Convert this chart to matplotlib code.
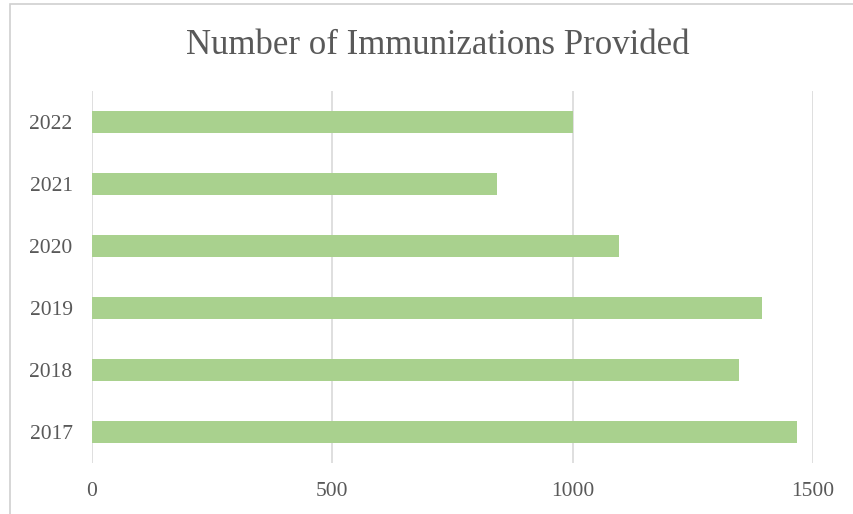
import matplotlib.pyplot as plt
from matplotlib.patches import Rectangle

# values
years = ['2017', '2018', '2019', '2020', '2021', '2022']
immunizations = [1467, 1346, 1393, 1096, 842, 1000]
x_ticks = [0, 500, 1000, 1500]

plt.rcParams['font.family'] = ['Liberation Serif', 'DejaVu Serif']
text_col = '#595959'

fig = plt.figure(figsize=(8.54, 5.14), dpi=100)
W, H = 854, 514
ax = fig.add_axes([92 / W, 1 - 463 / H, (813 - 92) / W, 372 / H])

ax.barh(range(len(years)), immunizations, height=0.34, color='#A9D18E', zorder=3)
ax.set_xlim(0, 1500)
ax.set_ylim(-0.5, len(years) - 0.5)
ax.set_yticks(range(len(years)), labels=years)
ax.set_xticks(x_ticks, labels=[str(t) for t in x_ticks])
ax.tick_params(axis='both', length=0, labelsize=15.5, labelcolor=text_col)
ax.tick_params(axis='y', pad=14)
ax.tick_params(axis='x', pad=14)
ax.grid(axis='x', color='#D9D9D9', linewidth=1.2, zorder=0)
for s in ax.spines.values():
    s.set_visible(False)

fig.text(438 / W, 1 - 45 / H, 'Number of Immunizations Provided', ha='center', va='center',
         fontsize=25, color=text_col)

# light outer border of the chart area
fig.patches.append(Rectangle((10 / W, -0.1), 1.2, 1 - 4 / H + 0.1, transform=fig.transFigure,
                             fill=False, edgecolor='#D0D0D0', linewidth=1.2))

fig.savefig('out.png', dpi=100, facecolor='white')
